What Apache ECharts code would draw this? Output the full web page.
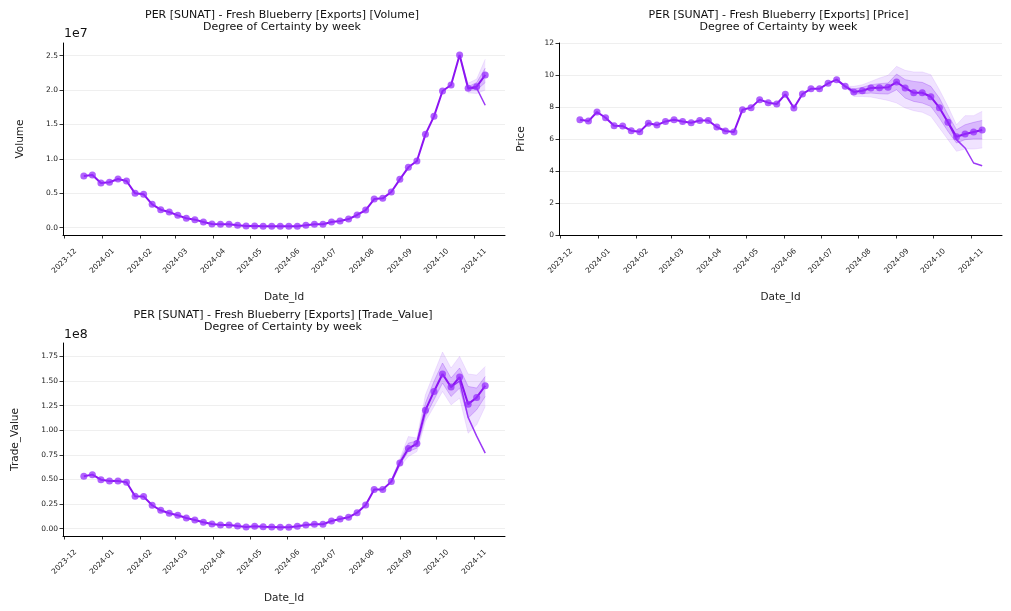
<!DOCTYPE html>
<html><head><meta charset="utf-8">
<script src="https://cdn.jsdelivr.net/npm/echarts@6/dist/echarts.min.js"></script>
<style>html,body{margin:0;padding:0;background:#fff}#c{width:1011px;height:611px}</style>
</head><body><div id="c"></div>
<script>
// ---------- DATA ----------
const dates = ['2023-12-17','2023-12-24','2023-12-31','2024-01-07','2024-01-14','2024-01-21','2024-01-28',
 '2024-02-04','2024-02-11','2024-02-18','2024-02-25','2024-03-03','2024-03-10','2024-03-17','2024-03-24','2024-03-31',
 '2024-04-07','2024-04-14','2024-04-21','2024-04-28','2024-05-05','2024-05-12','2024-05-19','2024-05-26',
 '2024-06-02','2024-06-09','2024-06-16','2024-06-23','2024-06-30','2024-07-07','2024-07-14','2024-07-21','2024-07-28',
 '2024-08-04','2024-08-11','2024-08-18','2024-08-25','2024-09-01','2024-09-08','2024-09-15','2024-09-22','2024-09-29',
 '2024-10-06','2024-10-13','2024-10-20','2024-10-27','2024-11-03','2024-11-10'];
const monthLabels = ['2023-12','2024-01','2024-02','2024-03','2024-04','2024-05','2024-06','2024-07','2024-08','2024-09','2024-10','2024-11'];

// Volume (x 1e7)
const volume = [0.751,0.766,0.650,0.660,0.708,0.679,0.500,0.485,0.340,0.262,0.228,0.180,0.137,0.117,0.083,0.054,
 0.049,0.049,0.035,0.025,0.025,0.020,0.020,0.020,0.020,0.020,0.035,0.049,0.049,0.083,0.097,0.126,0.185,0.257,
 0.417,0.427,0.519,0.703,0.878,0.969,1.357,1.619,1.987,2.074,2.510,2.026,2.050,2.220];
const volumeAltStart = 45;
const volumeAlt = [2.026,2.030,1.780];
const volumeBandStart = 44;
const volumeOuterLo = [2.51,1.96,1.95,2.00];
const volumeOuterHi = [2.51,2.10,2.16,2.45];
const volumeInnerLo = [2.51,2.00,2.00,2.11];
const volumeInnerHi = [2.51,2.05,2.11,2.32];

// Price
const price = [7.20,7.12,7.69,7.33,6.83,6.81,6.52,6.46,6.98,6.87,7.10,7.20,7.10,7.02,7.16,7.16,6.75,6.50,6.44,
 7.83,7.96,8.46,8.27,8.19,8.79,7.94,8.81,9.14,9.14,9.48,9.71,9.29,8.94,9.02,9.19,9.21,9.23,9.56,9.19,8.89,8.89,
 8.64,7.96,7.04,6.14,6.31,6.44,6.56];
const priceAltStart = 43;
const priceAlt = [7.04,5.96,5.44,4.50,4.33];
const priceBandStart = 31;
const priceOuterLo = [9.29,8.66,8.66,8.62,8.52,8.41,8.25,7.94,7.77,7.67,7.42,6.69,5.96,5.23,5.37,5.37,5.44];
const priceOuterHi = [9.29,9.29,9.39,9.60,9.81,9.98,10.54,10.29,10.19,10.19,10.02,9.08,8.04,6.89,7.46,7.46,7.73];
const priceInnerLo = [9.29,8.81,8.83,8.87,8.83,8.81,9.08,8.56,8.35,8.25,8.04,7.31,6.48,5.75,5.96,6.00,6.00];
const priceInnerHi = [9.29,9.12,9.23,9.39,9.46,9.50,10.06,9.71,9.60,9.54,9.29,8.56,7.52,6.58,6.89,7.04,7.16];

// Trade value (x 1e8)
const trade = [0.533,0.549,0.498,0.485,0.485,0.472,0.330,0.326,0.238,0.187,0.157,0.136,0.109,0.089,0.065,0.048,
 0.038,0.038,0.027,0.017,0.024,0.020,0.017,0.014,0.014,0.024,0.038,0.045,0.045,0.078,0.099,0.116,0.163,0.241,
 0.397,0.397,0.478,0.668,0.814,0.865,1.204,1.394,1.571,1.438,1.540,1.265,1.333,1.452];
const tradeAltStart = 43;
const tradeAlt = [1.438,1.500,1.130,0.940,0.767];
const tradeBandStart = 36;
const tradeOuterLo = [0.46,0.63,0.733,0.783,1.09,1.24,1.394,1.258,1.326,0.97,1.055,1.241];
const tradeOuterHi = [0.50,0.71,0.936,0.920,1.36,1.58,1.794,1.632,1.750,1.571,1.560,1.648];
const tradeInnerLo = [0.47,0.65,0.783,0.818,1.14,1.31,1.479,1.343,1.428,1.123,1.208,1.343];
const tradeInnerHi = [0.49,0.69,0.869,0.892,1.276,1.496,1.683,1.530,1.632,1.445,1.428,1.546];

const volTicks = [0,0.5,1.0,1.5,2.0,2.5];
const tradeTicks = [0,0.25,0.5,0.75,1.0,1.25,1.5,1.75];

// ---------- HELPERS ----------
const toMs = s => { const p = s.split('-').map(Number); return Date.UTC(p[0], p[1]-1, p[2]||1); };
const xs = dates.map(toMs);
const monthMs = monthLabels.map(toMs);
const LINE = '#8c14f2';
const MARK = 'rgba(150,45,252,0.75)';
const FONT = 'DejaVu Sans';

function pairs(vals, start) {
  return xs.map((x, i) => {
    const k = i - start;
    return [x, (k >= 0 && k < vals.length) ? vals[k] : null];
  });
}

function xAxisCfg(gi) {
  return {
    type: 'value', gridIndex: gi,
    min: Date.UTC(2023,10,30) - 2*3600e3, max: Date.UTC(2024,10,26,5),
    name: 'Date_Id', nameLocation: 'middle', nameGap: 56.5,
    nameTextStyle: {fontFamily: FONT, fontSize: 10.5, color: '#222'},
    axisLine: {show: true, onZero: false, lineStyle: {color: '#000', width: 1}},
    axisTick: {show: true, length: 3.5, lineStyle: {color: '#000', width: 0.8}, customValues: monthMs},
    axisLabel: {customValues: monthMs, rotate: 45, align: 'center', verticalAlign: 'middle', margin: 26,
      fontFamily: FONT, fontSize: 7.5, color: '#222',
      formatter: v => { const i = monthMs.indexOf(v); return i >= 0 ? monthLabels[i] : ''; }},
    splitLine: {show: false}
  };
}
function yAxisCfg(gi, name, gap, min, max, ticks, dec) {
  const cfg = {
    type: 'value', gridIndex: gi, min: min, max: max,
    name: name, nameLocation: 'middle', nameGap: gap,
    nameTextStyle: {fontFamily: FONT, fontSize: 10.5, color: '#222'},
    axisLine: {show: true, onZero: false, lineStyle: {color: '#000', width: 1}},
    axisTick: {show: true, length: 3.5, lineStyle: {color: '#000', width: 0.8}},
    axisLabel: {fontFamily: FONT, fontSize: 7.5, color: '#222', margin: 5,
      formatter: v => v.toFixed(dec)},
    splitLine: {show: true, lineStyle: {color: '#ebebeb', width: 0.8}}
  };
  if (ticks) {
    cfg.axisTick.customValues = ticks;
    cfg.axisLabel.customValues = ticks;
  } else {
    cfg.interval = 2;
  }
  return cfg;
}

// band as one polygon, drawn through the axis scale with api.coord
function bandSeries(gi, start, lo, hi, fill, edge, z) {
  const data = lo.map((l, k) => [xs[start + k], l, hi[k]]);
  return {
    type: 'custom', xAxisIndex: gi, yAxisIndex: gi, silent: true, z: z,
    encode: {x: 0, y: [1, 2]},
    data: data,
    renderItem: function (params, api) {
      if (params.dataIndex !== 0) return null;
      const top = data.map(d => api.coord([d[0], d[2]]));
      const bot = data.map(d => api.coord([d[0], d[1]])).reverse();
      return {
        type: 'group',
        children: [
          {type: 'polygon', shape: {points: top.concat(bot)}, style: {fill: fill, stroke: 'none'}},
          {type: 'polyline', shape: {points: top}, style: {fill: 'none', stroke: edge, lineWidth: 0.8}},
          {type: 'polyline', shape: {points: bot}, style: {fill: 'none', stroke: edge, lineWidth: 0.8}}
        ]
      };
    }
  };
}

function chartSeries(gi, main, altStart, alt, bStart, oLo, oHi, iLo, iHi) {
  const base = {type: 'line', xAxisIndex: gi, yAxisIndex: gi, symbol: 'none', silent: true, connectNulls: false};
  return [
    bandSeries(gi, bStart, oLo, oHi, 'rgba(165,90,255,0.17)', 'rgba(150,60,250,0.15)', 1),
    bandSeries(gi, bStart, iLo, iHi, 'rgba(145,50,245,0.24)', 'rgba(140,40,240,0.35)', 2),
    Object.assign({}, base, {data: pairs(alt, altStart), lineStyle: {width: 1.5, color: 'rgba(145,35,245,0.9)'}, z: 3}),
    Object.assign({}, base, {data: pairs(main, 0), symbol: 'circle', symbolSize: 7,
      itemStyle: {color: MARK}, lineStyle: {width: 2, color: LINE}, z: 4})
  ];
}

const titleStyle = {fontFamily: FONT, fontSize: 11, fontWeight: 'normal', color: '#111', lineHeight: 12};
const mkTitle = (txt, cx, top) => ({text: txt, left: cx, top: top, textAlign: 'center', textStyle: titleStyle});

const option = {
  animation: false,
  backgroundColor: '#fff',
  title: [
    mkTitle('PER [SUNAT] - Fresh Blueberry [Exports] [Volume]\nDegree of Certainty by week', 277, 4),
    mkTitle('PER [SUNAT] - Fresh Blueberry [Exports] [Price]\nDegree of Certainty by week', 773.5, 4),
    mkTitle('PER [SUNAT] - Fresh Blueberry [Exports] [Trade_Value]\nDegree of Certainty by week', 278, 304)
  ],
  graphic: [
    {type: 'text', left: 64, top: 27, style: {text: '1e7', font: '12.5px "DejaVu Sans"', fill: '#111'}},
    {type: 'text', left: 64, top: 328, style: {text: '1e8', font: '12.5px "DejaVu Sans"', fill: '#111'}}
  ],
  grid: [
    {left: 63, top: 43, width: 442, height: 192},
    {left: 559, top: 43, width: 443, height: 192},
    {left: 63, top: 343, width: 442, height: 193}
  ],
  xAxis: [xAxisCfg(0), xAxisCfg(1), xAxisCfg(2)],
  yAxis: [
    yAxisCfg(0, 'Volume', 37, -0.106, 2.685, volTicks, 1),
    yAxisCfg(1, 'Price', 32, 0, 12, null, 0),
    yAxisCfg(2, 'Trade_Value', 42, -0.0743, 1.886, tradeTicks, 2)
  ],
  series: [].concat(
    chartSeries(0, volume, volumeAltStart, volumeAlt, volumeBandStart, volumeOuterLo, volumeOuterHi, volumeInnerLo, volumeInnerHi),
    chartSeries(1, price, priceAltStart, priceAlt, priceBandStart, priceOuterLo, priceOuterHi, priceInnerLo, priceInnerHi),
    chartSeries(2, trade, tradeAltStart, tradeAlt, tradeBandStart, tradeOuterLo, tradeOuterHi, tradeInnerLo, tradeInnerHi)
  )
};
const chart = echarts.init(document.getElementById('c'), null, {renderer: 'canvas'});
chart.setOption(option);
</script></body></html>
